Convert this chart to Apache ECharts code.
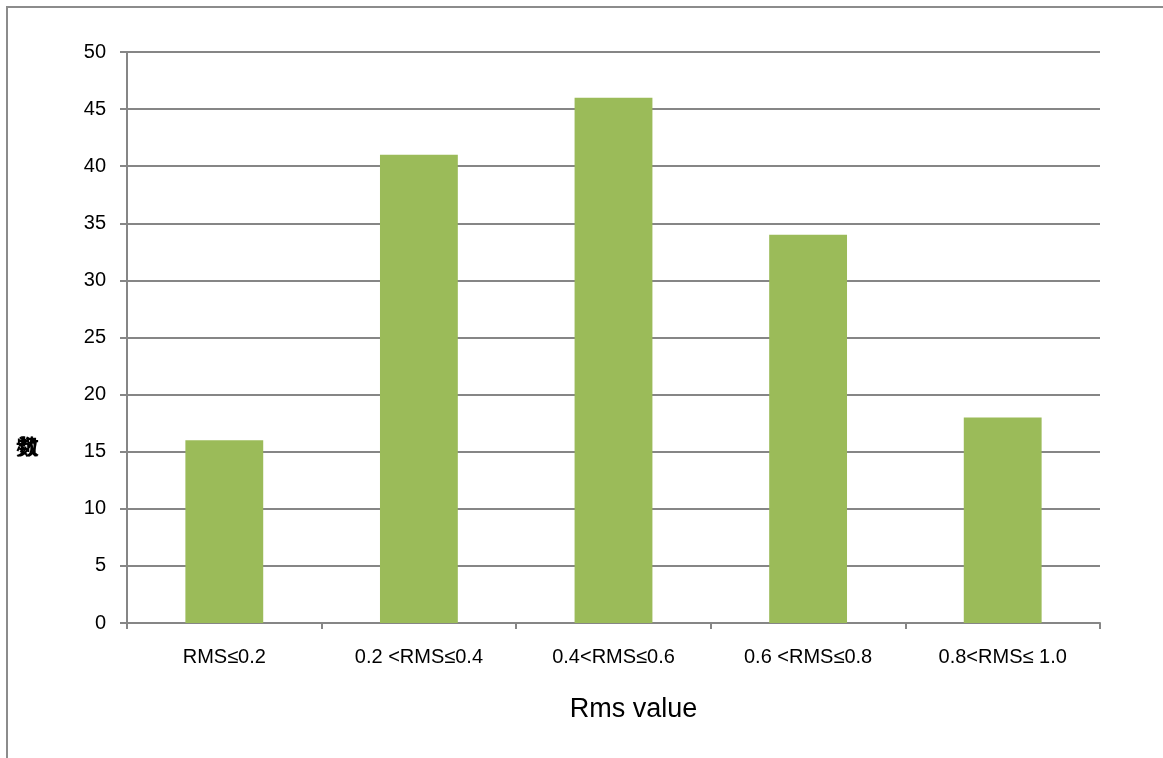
<!DOCTYPE html>
<html>
<head>
<meta charset="utf-8">
<script src="https://cdn.jsdelivr.net/npm/echarts@6/dist/echarts.min.js"></script>
<style>
  html, body { margin: 0; padding: 0; background: #fff; }
  #chart { width: 1163px; height: 758px; }
</style>
</head>
<body>
<div id="chart"></div>
<script>
// RMS bins and the number of cases in each bin
const categories = ['RMS≤0.2', '0.2 <RMS≤0.4', '0.4<RMS≤0.6', '0.6 <RMS≤0.8', '0.8<RMS≤ 1.0'];
const counts = [16, 41, 46, 34, 18];
const yTicks = [0, 5, 10, 15, 20, 25, 30, 35, 40, 45, 50];

const chart = echarts.init(document.getElementById('chart'), null, { renderer: 'canvas' });
const axisGray = '#868686';
const font = 'Liberation Sans, Arial, sans-serif';

chart.setOption({
  animation: false,
  backgroundColor: '#ffffff',
  grid: { left: 127, right: 63, top: 52, bottom: 135 },
  graphic: [
    {
      type: 'rect',
      shape: { x: 7, y: 7, width: 1300, height: 900 },
      style: { fill: 'none', stroke: '#8c8c8c', lineWidth: 2 },
      silent: true
    },
    // y-axis title, glyphs stacked on one spot
    {
      type: 'text', left: 16, top: 436,
      style: { text: '频', fontSize: 21, fontWeight: 'bold', fill: '#000', fontFamily: 'Noto Sans CJK SC' }
    },
    {
      type: 'text', left: 18, top: 436,
      style: { text: '数', fontSize: 21, fontWeight: 'bold', fill: '#000', fontFamily: 'Noto Sans CJK SC' }
    }
  ],
  xAxis: {
    type: 'category',
    data: categories,
    name: 'Rms value',
    nameLocation: 'middle',
    nameGap: 73,
    nameTextStyle: { fontSize: 27, color: '#000', fontFamily: font, padding: [0, 0, 0, 40] },
    axisLine: { lineStyle: { color: axisGray, width: 2 } },
    axisTick: { show: true, alignWithLabel: false, length: 6, lineStyle: { color: axisGray, width: 2 } },
    axisLabel: { fontSize: 20, color: '#000', margin: 24, fontFamily: font, interval: 0 }
  },
  yAxis: {
    type: 'value',
    min: 0, max: 50, interval: 5,
    axisLine: { show: true, lineStyle: { color: axisGray, width: 2 } },
    axisTick: { show: true, length: 7, lineStyle: { color: axisGray, width: 2 } },
    axisLabel: {
      fontSize: 20, color: '#000', margin: 21, fontFamily: font,
      formatter: v => (yTicks.includes(v) ? String(v) : '')
    },
    splitLine: { show: true, lineStyle: { color: axisGray, width: 2 } }
  },
  series: [{
    type: 'bar',
    data: counts,
    barWidth: '40%',
    itemStyle: { color: '#9BBB59' }
  }]
});
</script>
</body>
</html>
